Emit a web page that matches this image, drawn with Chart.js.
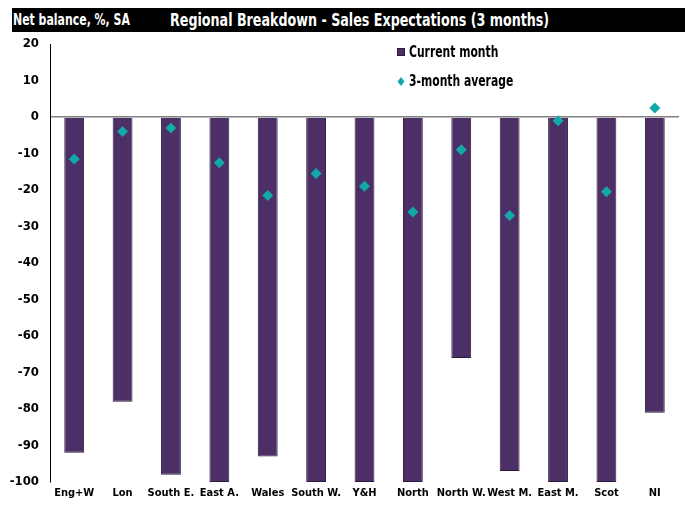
<!DOCTYPE html>
<html>
<head>
<meta charset="utf-8">
<script src="https://cdn.jsdelivr.net/npm/chart.js@4/dist/chart.umd.min.js"></script>
<style>
  body { margin: 0; background: #fff; }
  #wrap { position: relative; width: 685px; height: 506px; }
  #head {
    position: absolute; left: 12px; top: 8px; width: 673px; height: 24px;
    background: #000; color: #fff;
    font-family: 'DejaVu Sans Condensed', 'Liberation Sans Narrow', sans-serif;
    font-weight: bold; font-size: 16px; line-height: 24px;
  }
  #head span { position: absolute; top: 0; white-space: nowrap; transform: scaleX(0.76); transform-origin: 0 50%; }
  #head span.title { font-size: 17px; transform: scaleX(0.83); }
</style>
</head>
<body>
<div id="wrap">
  <canvas id="chart"></canvas>
  <div id="head"><span style="left:1px">Net balance, %, SA</span><span class="title" style="left:158px">Regional Breakdown  - Sales Expectations (3 months)</span></div>
</div>
<script>
// Regions and net balances
const regions = ['Eng+W', 'Lon', 'South E.', 'East A.', 'Wales', 'South W.', 'Y&H', 'North', 'North W.', 'West M.', 'East M.', 'Scot', 'NI'];
const currentMonth = [-92, -78, -98, -100, -93, -100, -100, -100, -66, -97, -100, -100, -81];
const threeMonthAvg = [-11.5, -4, -3, -12.5, -21.5, -15.5, -19, -26, -9, -27, -1, -20.5, 2.5];
const yTicks = [20, 10, 0, -10, -20, -30, -40, -50, -60, -70, -80, -90, -100];

const font = "'DejaVu Sans Condensed', 'Liberation Sans Narrow', sans-serif";

// legend drawn inside the plot, like the original
const legendPlugin = {
    id: 'insideLegend',
    afterDraw(chart) {
        const c = chart.ctx;
        c.save();
        c.fillStyle = '#4B2F66';
        c.fillRect(397, 48, 8, 8);
        c.strokeStyle = '#2b1d3a';
        c.strokeRect(397.5, 48.5, 7, 7);
        c.fillStyle = '#13A8A8';
        c.beginPath();
        c.moveTo(401, 77); c.lineTo(404.5, 81.5); c.lineTo(401, 86); c.lineTo(397.5, 81.5);
        c.closePath(); c.fill();
        // narrow text
        c.font = 'bold 15px ' + font;
        c.fillStyle = '#000';
        c.textBaseline = 'middle';
        c.translate(409, 0);
        c.scale(0.8, 1);
        c.fillText('Current month', 0, 53);
        c.fillText('3-month average', 0, 82);
        c.restore();
    }
};

new Chart(document.getElementById('chart'), {
    data: {
        labels: regions,
        datasets: [{
            type: 'line',
            label: '3-month average',
            data: threeMonthAvg,
            showLine: false,
            pointStyle: 'rectRot',
            pointRadius: 5.5,
            backgroundColor: '#13A8A8',
            borderColor: '#13A8A8',
            borderWidth: 0,
            order: 0
        }, {
            type: 'bar',
            label: 'Current month',
            data: currentMonth,
            backgroundColor: '#4B2F66',
            borderColor: '#2b1d3a',
            borderWidth: 1,
            categoryPercentage: 1,
            barPercentage: 0.41,
            order: 1
        }]
    },
    options: {
        responsive: true,
        maintainAspectRatio: false,
        animation: false,
        layout: { padding: { top: 44, right: 6, left: 0, bottom: 0 } },
        plugins: {
            legend: { display: false },
            tooltip: { enabled: false }
        },
        scales: {
            x: {
                grid: { display: false, drawTicks: false },
                border: { display: false },
                ticks: {
                    color: '#000',
                    font: { family: font, weight: 'bold', size: 11 },
                    maxRotation: 0,
                    autoSkip: false,
                    padding: 5
                },
                afterFit(s) { s.height = 24; }
            },
            y: {
                min: -100,
                max: 20,
                afterBuildTicks(s) { s.ticks = yTicks.map(v => ({ value: v })); },
                grid: {
                    drawTicks: false,
                    lineWidth: 1.5,
                    color: ctx => ctx.tick && ctx.tick.value === 0 ? '#808080' : 'rgba(0,0,0,0)'
                },
                border: { display: true, color: '#000', width: 1 },
                ticks: {
                    color: '#000',
                    font: { family: font, weight: 'bold', size: 13 },
                    padding: 11
                },
                afterFit(s) { s.width = 50; }
            }
        }
    },
    plugins: [legendPlugin]
});
</script>
</body>
</html>
